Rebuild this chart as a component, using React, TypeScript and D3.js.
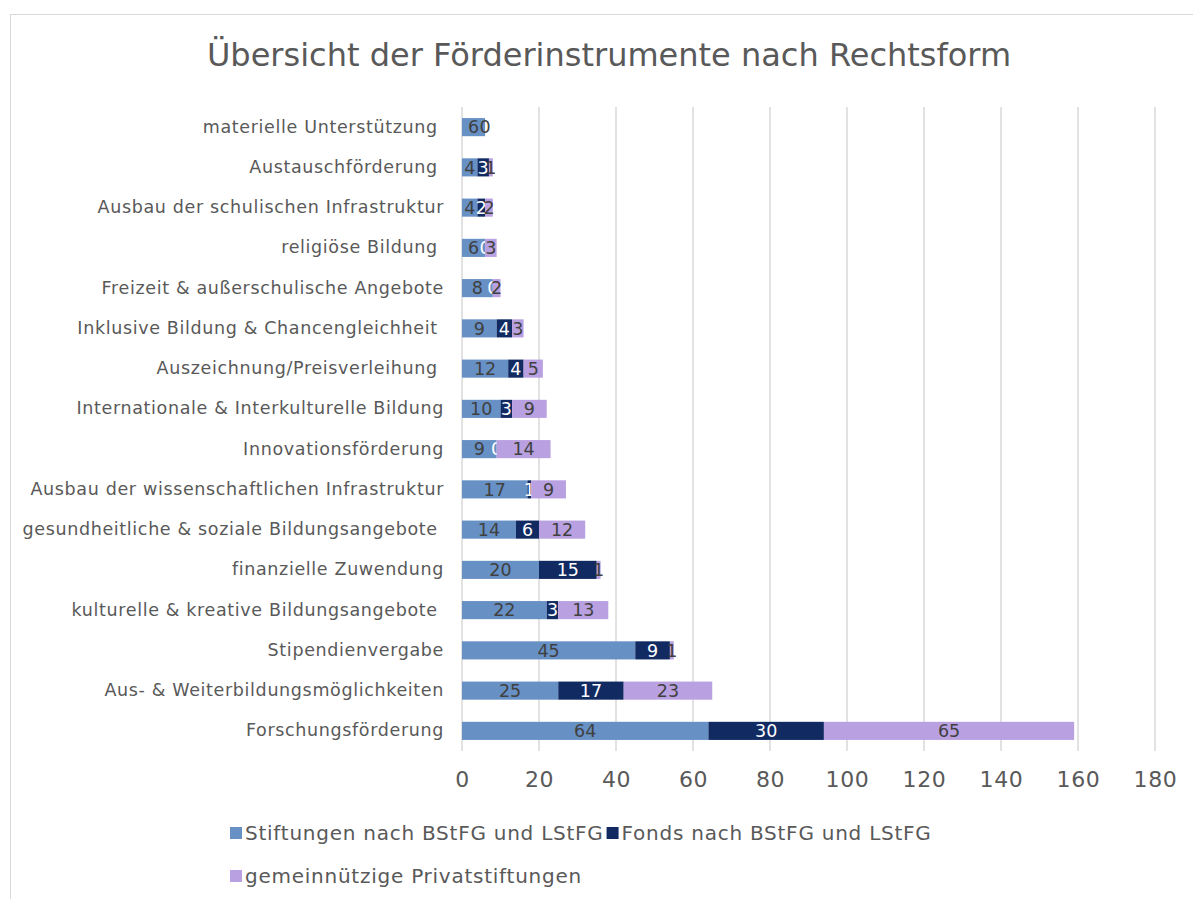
import React, { useEffect, useRef } from 'react';
import * as d3 from 'd3';

const categories = [
  'materielle Unterstützung ',
  'Austauschförderung ',
  'Ausbau der schulischen Infrastruktur',
  'religiöse Bildung ',
  'Freizeit & außerschulische Angebote',
  'Inklusive Bildung & Chancengleichheit ',
  'Auszeichnung/Preisverleihung ',
  'Internationale & Interkulturelle Bildung',
  'Innovationsförderung',
  'Ausbau der wissenschaftlichen Infrastruktur',
  'gesundheitliche & soziale Bildungsangebote ',
  'finanzielle Zuwendung',
  'kulturelle & kreative Bildungsangebote ',
  'Stipendienvergabe',
  'Aus- & Weiterbildungsmöglichkeiten',
  'Forschungsförderung',
];

const stiftungen = [6, 4, 4, 6, 8, 9, 12, 10, 9, 17, 14, 20, 22, 45, 25, 64];
const fonds = [null, 3, 2, 0, 0, 4, 4, 3, 0, 1, 6, 15, 3, 9, 17, 30];
const privat = [0, 1, 2, 3, 2, 3, 5, 9, 14, 9, 12, 1, 13, 1, 23, 65];

const seriesNames = [
  'Stiftungen nach BStFG und LStFG',
  'Fonds nach BStFG und LStFG',
  'gemeinnützige Privatstiftungen',
];
const xTicks = [0, 20, 40, 60, 80, 100, 120, 140, 160, 180];

const colors = ['#6790c5', '#112a62', '#b9a0e0'];
const labelColors = ['#404040', '#ffffff', '#404040'];
const font = '"DejaVu Sans", Verdana, sans-serif';

export default function App() {
  const ref = useRef<SVGSVGElement>(null);

  useEffect(() => {
    const svg = d3.select(ref.current);
    svg.selectAll('*').remove();

    const W = 1193;
    const H = 899;
    const left = 462;
    const top = 107;
    const bottom = 751;

    svg.append('rect')
      .attr('x', 10.5).attr('y', 14.5)
      .attr('width', W + 20).attr('height', H + 20)
      .attr('fill', '#fff').attr('stroke', '#d9d9d9');

    svg.append('text')
      .attr('x', 609).attr('y', 66)
      .attr('text-anchor', 'middle')
      .attr('font-family', font).attr('font-size', 32)
      .attr('fill', '#595959')
      .text('Übersicht der Förderinstrumente nach Rechtsform');

    const x = d3.scaleLinear().domain([0, 180]).range([left, 1155]);
    const y = d3.scaleBand().domain(categories).range([top, bottom]).paddingInner(0.55).paddingOuter(0.275);

    svg.append('g').selectAll('line').data(xTicks).join('line')
      .attr('x1', d => x(d)).attr('x2', d => x(d))
      .attr('y1', top).attr('y2', bottom)
      .attr('stroke', '#d9d9d9').attr('stroke-width', 1.5);

    const xAxis = d3.axisBottom(x).tickValues(xTicks).tickSize(0).tickPadding(20);
    const ax = svg.append('g').attr('transform', `translate(0,${bottom})`).call(xAxis);
    ax.select('.domain').remove();
    ax.selectAll('text')
      .attr('font-family', font).attr('font-size', 22).attr('fill', '#595959')
      .attr('letter-spacing', 0.6);

    const yAxis = d3.axisLeft(y).tickSize(0).tickPadding(18);
    const ay = svg.append('g').attr('transform', `translate(${left},0)`).call(yAxis);
    ay.select('.domain').remove();
    ay.selectAll('text')
      .attr('font-family', font).attr('font-size', 17.5).attr('fill', '#595959')
      .attr('letter-spacing', 0.65)
      .style('white-space', 'pre');

    const rows = categories.map((c, i) => ({ cat: c, vals: [stiftungen[i], fonds[i], privat[i]] }));
    const g = svg.append('g');
    rows.forEach(r => {
      let acc = 0;
      r.vals.forEach((v, s) => {
        if (v === null) return;
        const x0 = x(acc);
        const x1 = x(acc + v);
        acc += v;
        g.append('rect')
          .attr('x', x0).attr('y', y(r.cat)!)
          .attr('width', x1 - x0).attr('height', y.bandwidth())
          .attr('fill', colors[s]);
        g.append('text')
          .attr('x', (x0 + x1) / 2).attr('y', y(r.cat)! + y.bandwidth() / 2)
          .attr('dy', '0.36em').attr('text-anchor', 'middle')
          .attr('font-family', font).attr('font-size', 17.5)
          .attr('fill', labelColors[s])
          .text(v);
      });
    });

    // legend: first row holds two items side by side, third wraps
    const lg = svg.append('g');
    let lx = 230;
    seriesNames.forEach((name, i) => {
      const ly = i < 2 ? 833 : 876;
      if (i === 2) lx = 230;
      const item = lg.append('g').attr('transform', `translate(${lx},${ly})`);
      item.append('rect').attr('x', 0).attr('y', -6).attr('width', 12).attr('height', 12).attr('fill', colors[i]);
      const t = item.append('text').attr('x', 15).attr('dy', '0.36em')
        .attr('font-family', font).attr('font-size', 20).attr('fill', '#595959')
        .attr('letter-spacing', 0.75)
        .text(name);
      const w = (t.node() as SVGTextElement).getComputedTextLength();
      lx += 15 + w + 3;
    });
  }, []);

  return (
    <svg ref={ref} width={1193} height={899} style={{ position: 'absolute', left: 0, top: 0 }} />
  );
}
